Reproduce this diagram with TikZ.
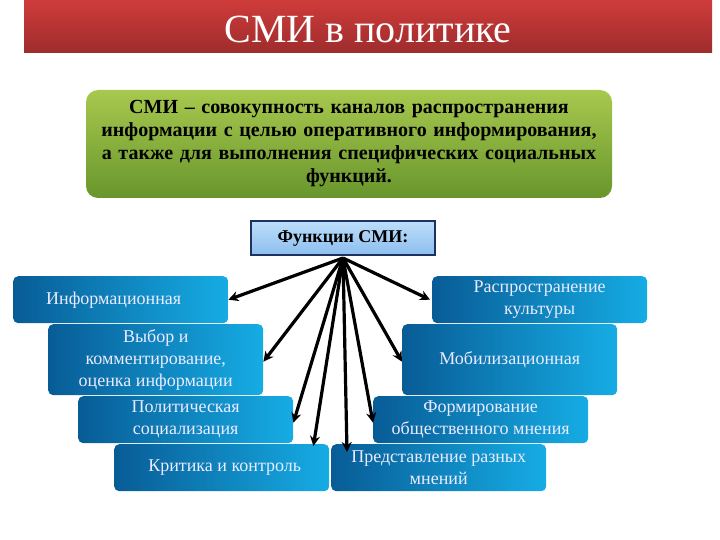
\documentclass[tikz,border=0pt]{standalone}
\usepackage{fontspec}
\setmainfont{Liberation Serif}
\usepackage{tikz}
\usetikzlibrary{arrows.meta}
\definecolor{bar-top}{RGB}{206,60,58}
\definecolor{bar-bottom}{RGB}{158,44,44}
\definecolor{green-top}{RGB}{168,200,78}
\definecolor{green-bottom}{RGB}{104,150,44}
\definecolor{func-top}{RGB}{190,222,250}
\definecolor{func-bottom}{RGB}{140,190,238}
\definecolor{func-edge}{RGB}{30,50,95}
\definecolor{blue-dark}{RGB}{8,92,150}
\definecolor{blue-light}{RGB}{22,172,228}
\tikzset{
    title-bar/.style = {rectangle, top color=bar-top, bottom color=bar-bottom, draw=none},
    def-box/.style = {rectangle, rounded corners=12pt, top color=green-top, bottom color=green-bottom, draw=none, text width=515pt, minimum height=108pt, align=center, font=\fontsize{20}{23}\selectfont\bfseries, inner xsep=5.5pt, inner ysep=0pt},
    func-box/.style = {rectangle, top color=func-top, bottom color=func-bottom, draw=func-edge, line width=2pt, minimum width=184pt, minimum height=34pt, font=\fontsize{18}{20}\selectfont\bfseries},
    role-box/.style = {rectangle, rounded corners=5pt, left color=blue-dark, right color=blue-light, draw=none, minimum width=215pt, minimum height=47pt, anchor=north west, text=white!92!blue, align=center, font=\fontsize{18}{22}\selectfont, inner sep=2pt},
    link/.style = {line width=3.2pt, -{Stealth[length=10pt,width=10pt]}},
}
\begin{document}
\begin{tikzpicture}[x=1pt,y=-1pt]
\useasboundingbox (0,0) rectangle (720,540);
% title
\fill[title-bar] (24,0) rectangle (712,53);
\node[text=white, font=\fontsize{40}{44}\selectfont] (title) at (368,29) {СМИ в политике};
% definition
\node[def-box] (def) at (349,144) {СМИ -- совокупность каналов распространения\\информации с целью оперативного информирования,\\а также для выполнения специфических социальных\\функций.};
% functions
\node[func-box] (func) at (343,238) {Функции СМИ:};
\coordinate (hub) at ([yshift=-2pt]func.south);
% left column
\node[role-box] (info) at (13,276) {\hspace*{-14pt}Информационная};
\node[role-box, minimum height=71pt] (choice) at (48,324) {Выбор и\\комментирование,\\оценка информации};
\node[role-box] (social) at (78,396) {Политическая\\социализация};
\node[role-box] (critic) at (114,444) {\hspace*{6pt}Критика и контроль};
% right column
\node[role-box] (culture) at (432,276) {Распространение\\культуры};
\node[role-box, minimum height=71pt] (mobil) at (402,324) {Мобилизационная};
\node[role-box] (opinion) at (373,396) {Формирование\\общественного мнения};
\node[role-box] (views) at (331,444) {Представление разных\\мнений};
% arrows
\draw[link] (hub) -- (info.east);
\draw[link] (hub) -- ([yshift=-2pt]choice.east);
\draw[link] (hub) -- ([yshift=-3pt]social.east);
\draw[link] (hub) -- ([xshift=-16pt,yshift=-2pt]critic.north east);
\draw[link] (hub) -- ([xshift=-2pt]culture.west);
\draw[link] (hub) -- ([yshift=-2pt]mobil.west);
\draw[link] (hub) -- ([yshift=-3pt]opinion.west);
\draw[link] (hub) -- ([xshift=16pt,yshift=-8pt]views.north west);
\end{tikzpicture}
\end{document}
